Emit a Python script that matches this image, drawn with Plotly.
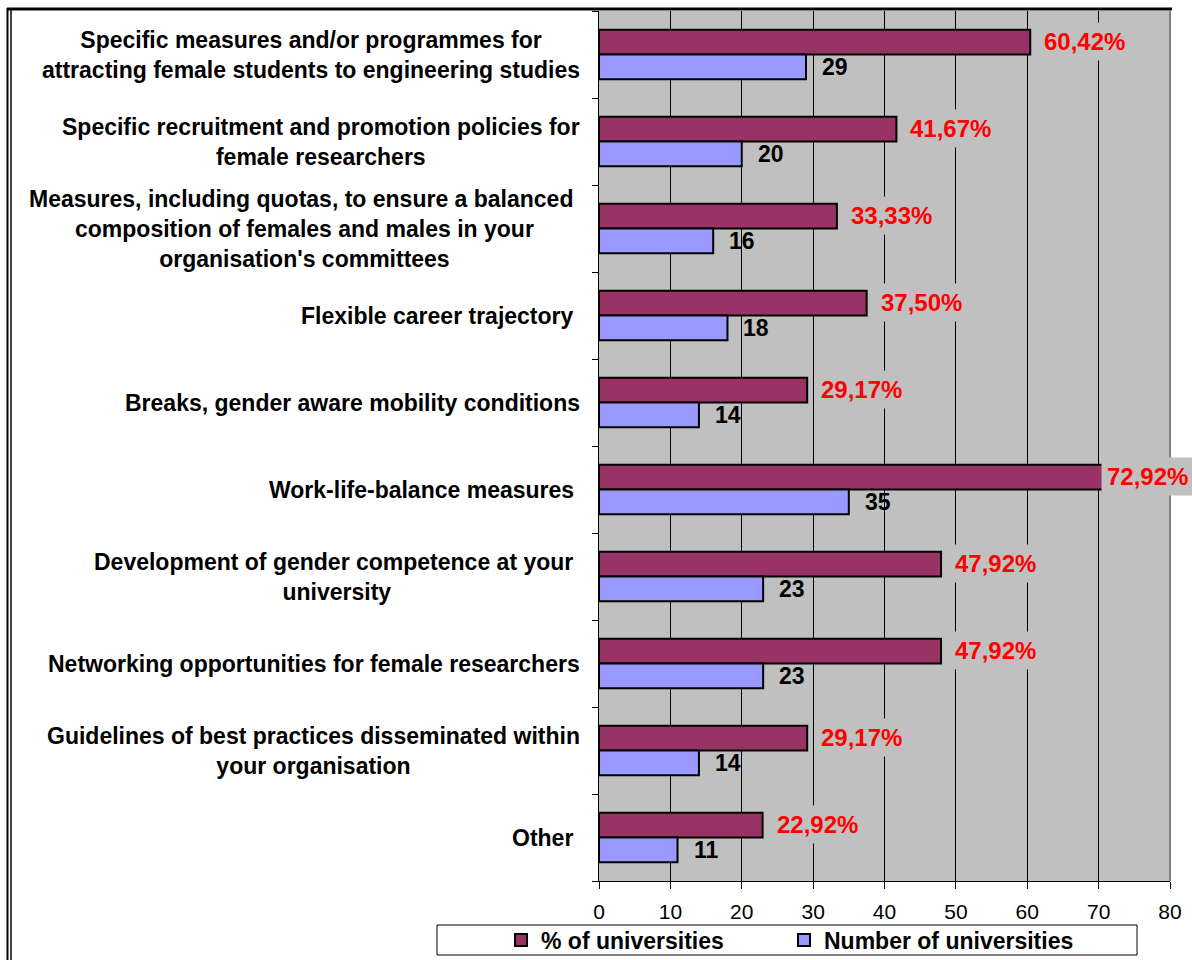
import plotly.graph_objects as go

categories = [
    "Specific measures and/or programmes for<br>attracting female students to engineering studies",
    "Specific recruitment and promotion policies for<br>female researchers",
    "Measures, including quotas, to ensure a balanced\u00a0<br>composition of females and males in your<br>organisation's committees",
    "Flexible career trajectory\u00a0",
    "Breaks, gender aware mobility conditions",
    "Work-life-balance measures\u00a0",
    "Development of gender competence at your\u00a0<br>university",
    "Networking opportunities for female researchers",
    "Guidelines of best practices disseminated within<br>your organisation",
    "Other\u00a0",
]
pct_values = [60.42, 41.67, 33.33, 37.50, 29.17, 72.92, 47.92, 47.92, 29.17, 22.92]
num_values = [29, 20, 16, 18, 14, 35, 23, 23, 14, 11]
x_ticks = [0, 10, 20, 30, 40, 50, 60, 70, 80]

FONT = "Arial, Liberation Sans, sans-serif"
W, H = 1192, 960
ML, MR, MT, MB = 599, 22, 11, 79
PW = W - ML - MR
PH = H - MT - MB


def px_x(p):
    return (p - ML) / PW


def px_y(p):
    return (H - MB - p) / PH


cat_ids = list(range(len(categories)))

fig = go.Figure()
fig.add_trace(go.Bar(
    y=cat_ids, x=pct_values, orientation="h", name="% of universities",
    marker=dict(color="#993366", line=dict(color="black", width=2)),
    legend="legend",
))
fig.add_trace(go.Bar(
    y=cat_ids, x=num_values, orientation="h", name="Number of universities",
    marker=dict(color="#9999FF", line=dict(color="black", width=2)),
    legend="legend2",
))

annotations = []
# category labels (centred blocks, right aligned to the axis)
for i, c in enumerate(categories):
    annotations.append(dict(
        x=0, xref="paper", y=i, yref="y", text=c, showarrow=False,
        xanchor="right", yanchor="middle", align="center", xshift=-17,
        font=dict(family=FONT, size=23, color="black", weight=700),
    ))
# value labels
LIMIT = 69.2
for i, (p, n) in enumerate(zip(pct_values, num_values)):
    annotations.append(dict(
        x=min(p, LIMIT), y=i, xref="x", yref="y",
        text=("%.2f%%" % p).replace(".", ","), showarrow=False,
        xanchor="left", yanchor="middle", xshift=8, yshift=13,
        bgcolor="#C0C0C0", borderpad=5,
        font=dict(family=FONT, size=24, color="#FF0000", weight=700),
    ))
    annotations.append(dict(
        x=n, y=i, xref="x", yref="y", text=str(n), showarrow=False,
        xanchor="left", yanchor="middle", xshift=14, yshift=-12,
        font=dict(family=FONT, size=23, color="black", weight=700),
    ))

shapes = [
    # right plot border
    dict(type="line", xref="paper", yref="paper", x0=1, x1=1, y0=0, y1=1,
         line=dict(color="#808080", width=2)),
    # chart frame: top
    dict(type="line", xref="paper", yref="paper", x0=px_x(7), x1=px_x(1172),
         y0=px_y(9), y1=px_y(9), line=dict(color="black", width=3)),
    # chart frame: left double line
    dict(type="line", xref="paper", yref="paper", x0=px_x(7.5), x1=px_x(7.5),
         y0=px_y(8), y1=px_y(965), line=dict(color="black", width=2)),
    dict(type="line", xref="paper", yref="paper", x0=px_x(11), x1=px_x(11),
         y0=px_y(8), y1=px_y(965), line=dict(color="black", width=1.5)),
    # legend box
    dict(type="rect", xref="paper", yref="paper", x0=px_x(437), x1=px_x(1137),
         y0=px_y(925), y1=px_y(955), line=dict(color="black", width=1),
         fillcolor="white", layer="below"),
]

legend_common = dict(
    orientation="h", xanchor="left", y=px_y(940), yanchor="middle",
    bgcolor="rgba(0,0,0,0)", borderwidth=0,
    font=dict(family=FONT, size=23, color="black", weight=700),
)

fig.update_layout(
    width=W, height=H,
    margin=dict(l=ML, r=MR, t=MT, b=MB, autoexpand=False),
    paper_bgcolor="white", plot_bgcolor="#C0C0C0",
    barmode="group", bargap=0.43, bargroupgap=0,
    font=dict(family=FONT, size=20, color="black"),
    xaxis=dict(
        range=[0, 80], tickvals=x_ticks, ticktext=[str(t) for t in x_ticks],
        showgrid=True, gridcolor="black", gridwidth=1, zeroline=False,
        showline=True, linecolor="black", linewidth=1,
        ticks="outside", ticklen=7, tickcolor="black", tickwidth=1,
        ticklabelstandoff=5,
        tickfont=dict(family=FONT, size=21, color="black"),
    ),
    yaxis=dict(
        type="linear", range=[len(categories) - 0.5, -0.5],
        tickvals=[i + 0.5 for i in range(-1, len(categories))],
        showticklabels=False, showgrid=False, zeroline=False,
        showline=True, linecolor="black", linewidth=1,
        ticks="outside", ticklen=6, tickcolor="black",
    ),
    showlegend=True,
    legend=dict(x=px_x(501), **legend_common),
    legend2=dict(x=px_x(784), **legend_common),
    annotations=annotations,
    shapes=shapes,
)

fig.write_html("out.html")
